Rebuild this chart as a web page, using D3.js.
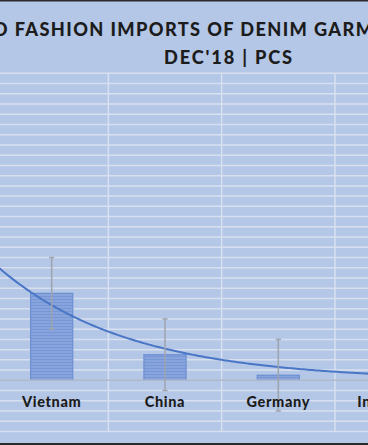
<!DOCTYPE html>
<html><head><meta charset="utf-8">
<script src="https://cdn.jsdelivr.net/npm/d3@7"></script>
<style>html,body{margin:0;padding:0;background:#b4c7e7;overflow:hidden}</style>
</head><body>
<svg id="c" width="368" height="445"></svg>
<script>
// ---- data (values in hundreds of pcs; the value axis is hidden in the reference) ----
const categories = ["Bangladesh", "Vietnam", "China", "Germany", "Indonesia"];
const values = [2210, 850, 250, 50, 120];
const errorAmount = 350;
const yTicks = d3.range(-500, 3001, 100);
const titleLines = ["WORLD FASHION IMPORTS OF DENIM GARMENTS", "DEC'18 | PCS"];

const W = 368, H = 445;
const svg = d3.select("#c");
const tf = "Lato, 'Open Sans', sans-serif";

svg.append("rect").attr("x", 0).attr("y", 0).attr("width", W).attr("height", H).attr("fill", "#b4c7e7");

const x = d3.scaleBand().domain(categories).range([-118.3, 448.3]).padding(0);
const y = d3.scaleLinear().domain([-500, 3000]).range([431.5, 73.3]);

const defs = svg.append("defs");
const pat = defs.append("pattern").attr("id", "stripes").attr("patternUnits", "userSpaceOnUse")
  .attr("width", 6).attr("height", 3);
pat.append("rect").attr("width", 6).attr("height", 3).attr("fill", "#87a4dc");
pat.append("rect").attr("y", 2).attr("width", 6).attr("height", 1).attr("fill", "#7896d5");

// horizontal gridlines
svg.append("g").selectAll("line").data(yTicks.filter(d => d !== 0)).join("line")
  .attr("x1", x.range()[0]).attr("x2", x.range()[1])
  .attr("y1", d => y(d)).attr("y2", d => y(d))
  .attr("stroke", "#d8e0ef").attr("stroke-width", 1.5);

// vertical gridlines (category boundaries)
const bounds = categories.map(c => x(c)).concat([x.range()[1]]);
svg.append("g").selectAll("line").data(bounds).join("line")
  .attr("x1", d => d).attr("x2", d => d)
  .attr("y1", y(3000)).attr("y2", y(-500))
  .attr("stroke", "#d8e0ef").attr("stroke-width", 1.5);

// bars
const bw = x.bandwidth() * 0.372;
svg.append("g").selectAll("rect").data(values).join("rect")
  .attr("x", (d, i) => x(categories[i]) + x.bandwidth() / 2 - bw / 2)
  .attr("y", d => y(Math.max(0, d)))
  .attr("width", bw)
  .attr("height", d => Math.abs(y(d) - y(0)))
  .attr("fill", "url(#stripes)")
  .attr("stroke", "#6c8fd2").attr("stroke-width", 1.2);

// zero axis line
svg.append("line").attr("x1", x.range()[0]).attr("x2", x.range()[1])
  .attr("y1", y(0)).attr("y2", y(0)).attr("stroke", "#b0b9c9").attr("stroke-width", 1.5);

// exponential trendline (least squares on ln y, as Excel does)
const ts = values.map((v, i) => i + 1);
const lv = values.map(v => Math.log(v));
const mt = d3.mean(ts), ml = d3.mean(lv);
const b = d3.sum(ts.map((t, i) => (t - mt) * (lv[i] - ml))) / d3.sum(ts.map(t => (t - mt) ** 2));
const a = ml - b * mt;
const cx = i => x(categories[i]) + x.bandwidth() / 2;
const step = x.step();
const trend = d3.range(1, 5.001, 0.02).map(t => [cx(0) + (t - 1) * step, Math.exp(a + b * t)]);
svg.append("path").datum(trend)
  .attr("d", d3.line().x(d => d[0]).y(d => y(d[1])))
  .attr("fill", "none").attr("stroke", "#4a76c6").attr("stroke-width", 2);

// error bars
const eb = svg.append("g").attr("stroke", "#9ea4ad").attr("stroke-width", 1.5);
values.forEach((v, i) => {
  const c = cx(i);
  eb.append("line").attr("x1", c).attr("x2", c).attr("y1", y(v + errorAmount)).attr("y2", y(v - errorAmount));
  eb.append("line").attr("x1", c - 2.6).attr("x2", c + 2.6).attr("y1", y(v + errorAmount)).attr("y2", y(v + errorAmount));
  eb.append("line").attr("x1", c - 2.6).attr("x2", c + 2.6).attr("y1", y(v - errorAmount)).attr("y2", y(v - errorAmount));
});

// helper: letter spacing so that a string spans a given width
function spacingFor(str, size, weight, target) {
  const p = svg.append("text").attr("font-family", tf).attr("font-weight", weight)
    .attr("font-size", size).text(str);
  const w0 = p.node().getComputedTextLength();
  p.remove();
  return (target - w0) / str.length;
}

// category labels
const labelLs = spacingFor("Vietnam", 14.5, 900, 59.5);
svg.append("g").selectAll("text").data(categories).join("text")
  .attr("x", (d, i) => cx(i)).attr("y", 406.5)
  .attr("text-anchor", "middle")
  .attr("font-family", tf).attr("font-weight", 900)
  .attr("font-size", 14.5).attr("letter-spacing", labelLs).attr("fill", "#1c1c1c")
  .text(d => d);

// title line 1: "FASHION ... DENIM " spans x 9 -> 304 in the reference
const tSize = 18.2;
const ls1 = spacingFor("FASHION IMPORTS OF DENIM ", tSize, 900, 295);
const prefix = titleLines[0].split("FASHION")[0];
const pp = svg.append("text").attr("font-family", tf).attr("font-weight", 900)
  .attr("font-size", tSize).attr("letter-spacing", ls1).text(prefix);
const preW = pp.node().getComputedTextLength();
pp.remove();
svg.append("text").attr("x", 9 - preW).attr("y", 36).attr("font-family", tf).attr("font-weight", 900)
  .attr("font-size", tSize).attr("letter-spacing", ls1).attr("fill", "#1c1c1c").text(titleLines[0]);

// title line 2: spans x 165 -> 293
const ls2 = spacingFor(titleLines[1], tSize, 900, 130);
svg.append("text").attr("x", 229).attr("y", 64).attr("text-anchor", "middle")
  .attr("font-family", tf).attr("font-weight", 900).attr("font-size", tSize).attr("letter-spacing", ls2)
  .attr("fill", "#1c1c1c").text(titleLines[1]);

// frame lines of the screenshot
svg.append("rect").attr("x", 0).attr("y", 0).attr("width", W).attr("height", 1.5).attr("fill", "#2a2a2a");
svg.append("rect").attr("x", 0).attr("y", 443).attr("width", W).attr("height", 2).attr("fill", "#2a2a2a");
</script>
</body></html>
